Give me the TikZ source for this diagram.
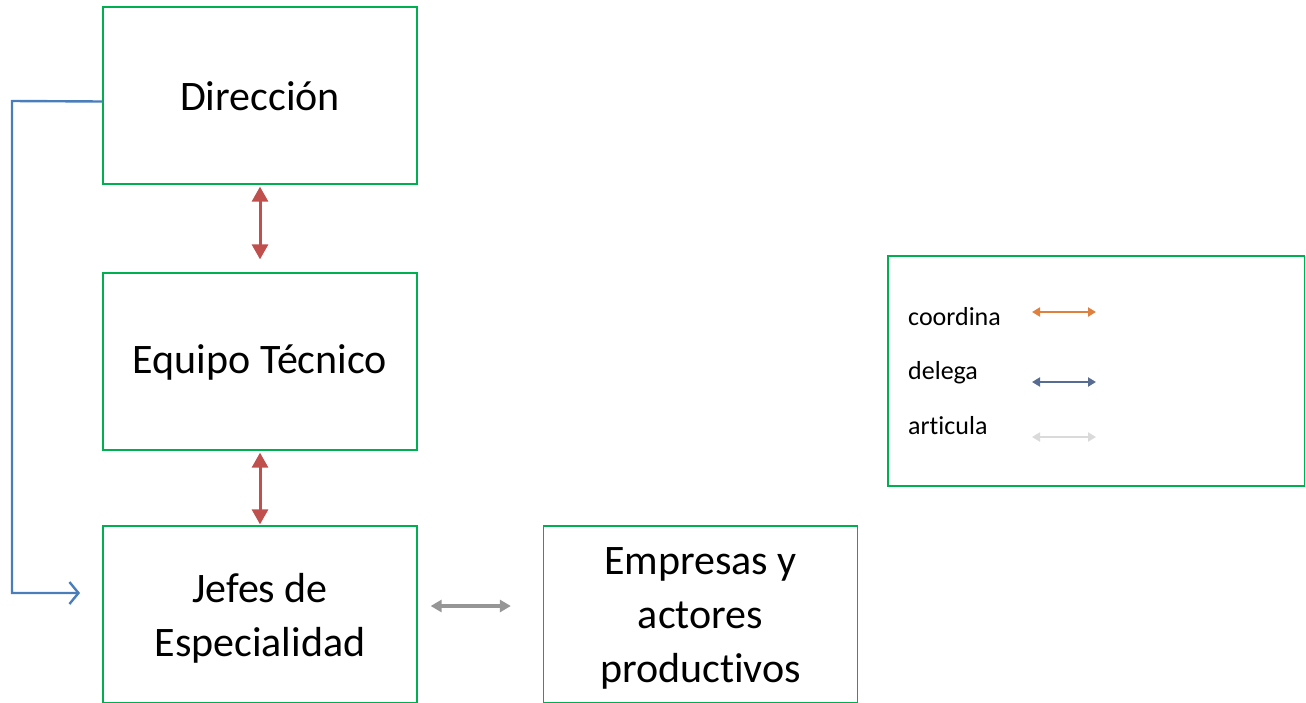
\documentclass[tikz,border=0pt]{standalone}
\usepackage{fontspec}
\setmainfont{Carlito}[Ligatures=NoCommon]
\usetikzlibrary{arrows.meta}
\definecolor{boxgreen}{RGB}{0,176,80}
\definecolor{conred}{RGB}{192,80,77}
\definecolor{conblue}{RGB}{74,126,187}
\definecolor{congrey}{RGB}{150,150,150}
\definecolor{legorange}{RGB}{224,128,62}
\definecolor{legblue}{RGB}{88,108,145}
\definecolor{leggrey}{RGB}{218,218,218}
\tikzset{
  orgbox/.style={draw=boxgreen, line width=1.3pt, minimum width=314pt, minimum height=177pt, inner sep=0pt},
  boxtext/.style={align=center, inner sep=0pt, font=\fontsize{42}{54}\selectfont},
  legbox/.style={draw=boxgreen, line width=1.3pt, minimum width=416.5pt, minimum height=230pt, inner sep=0pt},
  redarrow/.style={draw=conred, fill=conred, line width=3pt, {Triangle[width=16pt,length=15pt]}-{Triangle[width=16pt,length=15pt]}},
  greyarrow/.style={draw=congrey, fill=congrey, line width=3.3pt, {Triangle[width=12pt,length=11pt]}-{Triangle[width=12pt,length=11pt]}},
  bluecon/.style={draw=conblue, line width=2.4pt, -{Straight Barb[length=9pt,width=22pt,line width=2.4pt]}},
  legarrow/.style={line width=2.8pt, {Triangle[width=9pt,length=8pt]}-{Triangle[width=9pt,length=8pt]}},
  legtext/.style={anchor=base west, inner sep=0pt, font=\fontsize{26}{30}\selectfont}
}
\begin{document}
\begin{tikzpicture}[x=1pt,y=-1pt]
\useasboundingbox (0,0) rectangle (1306,702);
\node[orgbox] (dir) at (260,95.5) {};
\node[orgbox] (eq) at (260,361.5) {};
\node[orgbox] (jefes) at (260,614.5) {};
\node[orgbox] (emp) at (700.5,614.5) {};
\node[boxtext] (tdir) at ([yshift=-1pt]dir.center) {Dirección};
\node[boxtext] (teq) at ([yshift=-1pt]eq.center) {Equipo Técnico};
\node[boxtext] (tjefes) at ([yshift=-4pt]jefes.center) {Jefes de\\Especialidad};
\node[boxtext] (temp) at ([yshift=-4pt]emp.center) {Empresas y\\actores\\productivos};
\node[legbox] (leg) at (1096.25,371) {};
\node[legtext] (lc) at (908,325) {coordina};
\node[legtext] (ld) at (908,379) {delega};
\node[legtext] (la) at (908,434) {articula};
\coordinate (c1) at (1032,312); \coordinate (c2) at (1096,312);
\coordinate (d1) at (1032,382); \coordinate (d2) at (1096,382);
\coordinate (a1) at (1032,437); \coordinate (a2) at (1096,437);
\draw[legarrow, draw=legorange, fill=legorange] (c1) -- (c2);
\draw[legarrow, draw=legblue, fill=legblue] (d1) -- (d2);
\draw[legarrow, draw=leggrey, fill=leggrey] (a1) -- (a2);
\draw[redarrow, shorten <=2pt, shorten >=13pt] (dir.south) -- (eq.north);
\draw[redarrow, shorten <=2pt, shorten >=1pt] (eq.south) -- (jefes.north);
\draw[greyarrow, shorten <=13pt, shorten >=32pt] ([yshift=8.5pt]jefes.east) -- ([yshift=8.5pt]emp.west);
\coordinate (bend1) at (12,101);
\coordinate (tipend) at (80,593);
\draw[bluecon] ([yshift=-6pt]dir.west) -- (bend1) |- (tipend);
\end{tikzpicture}
\end{document}
